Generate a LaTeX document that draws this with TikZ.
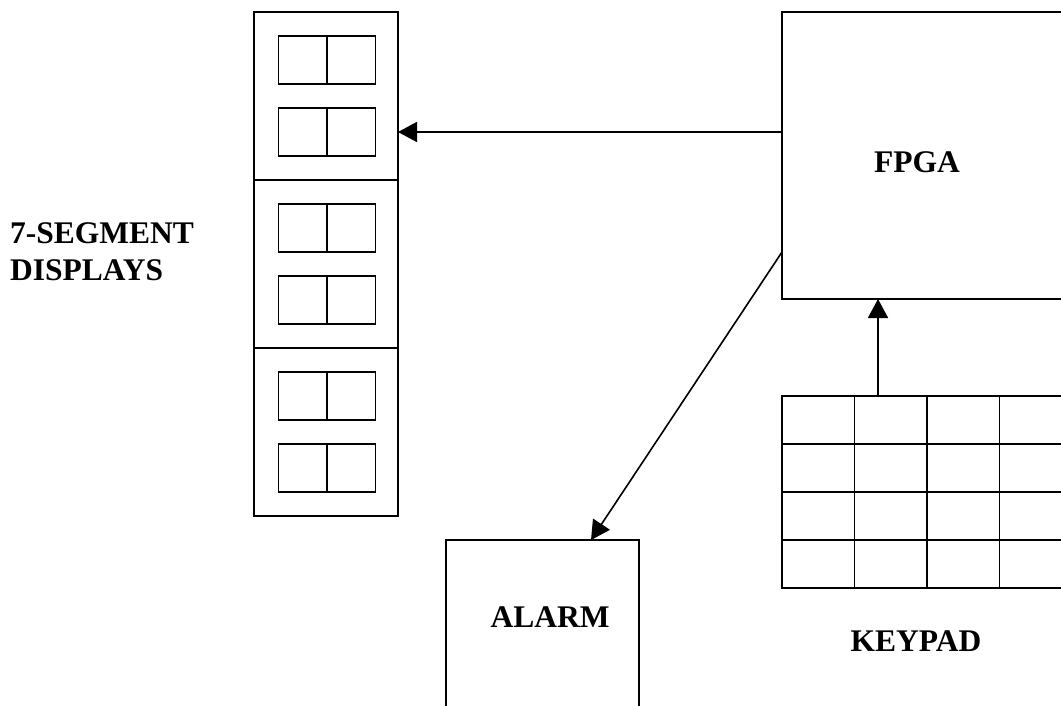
\documentclass[tikz,border=0pt]{standalone}
\usepackage{fontspec}
\setmainfont{Liberation Serif}
\usepackage{tikz}
\usetikzlibrary{arrows.meta,positioning}
\tikzset{
    every picture/.style={line join=miter},
    panelbox/.style={draw=black,line width=1.6pt,minimum width=144pt,
      minimum height=168pt,inner sep=0pt,outer sep=0pt},
    digitcell/.style={draw=black,line width=1.6pt,minimum width=48.5pt,
      minimum height=48pt,inner sep=0pt,outer sep=0pt},
    keycell/.style={draw=black,line width=1.6pt,minimum width=72.5pt,
      minimum height=48pt,inner sep=0pt,outer sep=0pt},
    blockbox/.style={draw=black,line width=1.6pt,inner sep=0pt,outer sep=0pt},
    boxlabel/.style={inner sep=0pt,font=\fontsize{31.5}{37}\selectfont\bfseries,
      align=left},
    sigarrow/.style={-{Triangle[length=19pt,width=20pt]},draw=black,
      line width=1.6pt}
}
\begin{document}
\begin{tikzpicture}[x=1pt,y=-1pt]
  \clip (0,0) rectangle (1061,705);
  % display column
  \node[panelbox] (dspA) at (326,96) {};
  \node[panelbox,below=0pt of dspA] (dspB) {};
  \node[panelbox,below=0pt of dspB] (dspC) {};
  \foreach \s in {A,B,C}{
    \foreach \d/\dy in {1/36,2/-36}{
      \node[digitcell,anchor=east] (dig\s\d L) at ([xshift=1pt,yshift=\dy pt]dsp\s.center) {};
      \node[digitcell,right=0pt of dig\s\d L] (dig\s\d R) {};
    }
  }
  \node[boxlabel,anchor=north west] (dsptxt) at (10,222.5) {7-SEGMENT\\DISPLAYS};
  % fpga
  \node[blockbox,minimum width=330pt,minimum height=287pt,anchor=north west] (fpga) at (782,12) {};
  \node[boxlabel] (fpgatxt) at (917,162) {FPGA};
  % keypad
  \foreach \r in {1,...,4}{
    \foreach \c in {1,...,4}{
      \node[keycell] (key\r\c) at ({818.25+72.5*(\c-1)},{420+48*(\r-1)}) {};
    }
  }
  \node[boxlabel] (keytxt) at (916,641) {KEYPAD};
  % alarm
  \node[blockbox,minimum width=193pt,minimum height=200pt,anchor=north west] (alarm) at (446,540) {};
  \node[boxlabel] (alarmtxt) at (550,617) {ALARM};
  % links
  \draw[sigarrow] (fpga.west |- digA2L) -- (dspA.east |- digA2L);
  \draw[sigarrow] ([yshift=47pt]fpga.south west) -- ([xshift=48.5pt]alarm.north);
  \draw[sigarrow] ([xshift=23.5pt]key11.north east) coordinate (kp) -- (kp |- fpga.south);
\end{tikzpicture}
\end{document}
